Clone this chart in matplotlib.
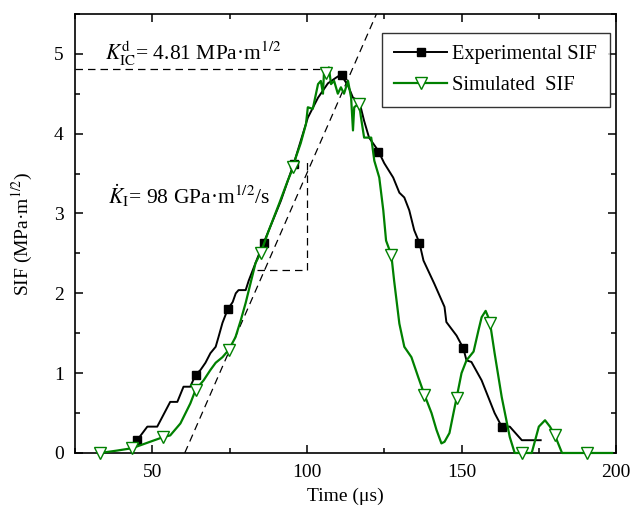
import matplotlib
matplotlib.use("Agg")
import matplotlib.pyplot as plt
from matplotlib.lines import Line2D
from matplotlib.ticker import MultipleLocator

plt.rcParams['font.family'] = ['Liberation Serif', 'DejaVu Serif']
plt.rcParams['mathtext.fontset'] = 'stix'

# Experimental SIF curve
exp_t = [45.1, 48.4, 51.6, 55.8, 58.1, 60.1, 62.3, 64.0, 65.6, 67.2, 68.8, 70.5, 71.4, 72.7,
         74.4, 76.0, 77.0, 77.9, 80.2, 81.2, 82.5, 84.1, 86.0, 87.7, 91.6, 95.8, 100.3,
         103.6, 106.8, 109.4, 111.0, 113.3, 114.9, 116.9, 118.5, 120.1, 123.0, 125.0,
         127.9, 129.9, 131.5, 133.1, 134.7, 136.4, 137.7, 141.2, 144.5, 145.1, 148.4,
         150.6, 151.6, 153.2, 156.5, 160.7, 163.0, 165.6, 169.5, 175.6]
exp_k = [0.16, 0.33, 0.33, 0.64, 0.64, 0.83, 0.83, 0.98, 1.04, 1.13, 1.25, 1.33, 1.45, 1.63,
         1.80, 1.89, 2.00, 2.04, 2.04, 2.16, 2.29, 2.45, 2.63, 2.79, 3.16, 3.63, 4.20,
         4.45, 4.63, 4.70, 4.74, 4.60, 4.45, 4.41, 4.16, 3.95, 3.79, 3.63,
         3.45, 3.26, 3.20, 3.04, 2.79, 2.63, 2.41, 2.12, 1.83, 1.64, 1.47,
         1.31, 1.16, 1.14, 0.91, 0.50, 0.33, 0.33, 0.16, 0.16]
exp_mark_t = [45.1, 64.0, 74.4, 86.0, 95.9, 111.2, 123.0, 136.4, 150.5, 163.2]
exp_mark_k = [0.16, 0.98, 1.80, 2.63, 3.62, 4.74, 3.77, 2.63, 1.31, 0.32]

# Simulated SIF curve
sim_t = [33.1, 38.6, 43.5, 53.6, 55.8, 59.1, 62.3, 64.0, 66.6, 68.8, 70.5, 72.7, 74.7, 76.9,
         78.6, 80.2, 81.8, 83.4, 85.1, 87.7, 91.0, 93.8, 95.6, 96.4, 98.0, 99.7, 100.3,
         101.9, 103.6, 104.5, 105.2, 105.5, 106.2, 107.1, 107.8, 108.8, 110.0, 111.0,
         112.0, 113.3, 114.3, 114.9, 115.3, 116.6, 116.9, 117.5, 118.5, 120.8, 121.8,
         123.4, 124.7, 125.6, 127.3, 128.2, 129.9, 131.5, 133.8, 136.0, 138.0, 140.3,
         141.9, 143.5, 144.5, 146.1, 147.4, 148.4, 150.0, 151.6, 153.9, 155.5, 156.5,
         157.8, 159.1, 160.7, 163.0, 165.6, 167.2, 169.5, 172.7, 175.0, 177.0, 178.6,
         180.2, 182.5, 190.6, 198.7]
sim_k = [0.00, 0.03, 0.06, 0.20, 0.22, 0.37, 0.62, 0.79, 0.91, 1.04, 1.13, 1.20, 1.29, 1.45,
         1.66, 1.88, 2.13, 2.38, 2.51, 2.79, 3.12, 3.41, 3.58, 3.70, 3.88, 4.12, 4.33,
         4.31, 4.62, 4.66, 4.50, 4.75, 4.76, 4.83, 4.62, 4.66, 4.50, 4.58,
         4.50, 4.66, 4.45, 4.04, 4.33, 4.37, 4.37, 4.20, 3.95, 3.95, 3.66,
         3.45, 3.04, 2.66, 2.48, 2.16, 1.62, 1.33, 1.20, 0.95, 0.73, 0.50,
         0.29, 0.12, 0.14, 0.25, 0.50, 0.69, 1.00, 1.16, 1.27, 1.54, 1.70,
         1.78, 1.66, 1.25, 0.70, 0.20, 0.00, 0.00, 0.00, 0.33, 0.41, 0.33,
         0.22, 0.00, 0.00, 0.00]
sim_mark_t = [33.1, 43.5, 53.6, 64.0, 74.7, 85.1, 95.6, 106.2, 116.9, 127.3, 138.0, 148.4,
              159.1, 169.5, 180.2, 190.6]
sim_mark_k = [0.00, 0.06, 0.20, 0.79, 1.29, 2.51, 3.58, 4.76, 4.37, 2.48, 0.73, 0.69,
              1.63, 0.00, 0.22, 0.00]

# Annotation guides
kic_value = 4.81
kic_t_end = 105.5
tangent_t = [60.5, 122.5]
tangent_k = [0.0, 5.5]
rate_h_t = [84.0, 100.0]
rate_h_k = 2.29
rate_v_t = 100.0
rate_v_k = [2.29, 3.65]

fig = plt.figure(figsize=(6.3, 5.13), dpi=100)
ax = fig.add_axes([0.119, 0.117, 0.859, 0.856])

green = '#008000'
ax.plot([25, kic_t_end], [kic_value, kic_value], ls=(0, (6, 4)), color='black', lw=0.9)
ax.plot(tangent_t, tangent_k, ls=(0, (6, 4)), color='black', lw=0.9)
ax.plot(rate_h_t, [rate_h_k, rate_h_k], ls=(0, (6, 4)), color='black', lw=0.9)
ax.plot([rate_v_t, rate_v_t], rate_v_k, ls=(0, (6, 4)), color='black', lw=0.9)

ax.plot(exp_t, exp_k, color='black', lw=1.4, zorder=3)
ax.plot(exp_mark_t, exp_mark_k, ls='none', marker='s', ms=6, color='black', zorder=4,
        clip_on=False)
ax.plot(sim_t, sim_k, color=green, lw=1.6, zorder=5, clip_on=False)
ax.plot(sim_mark_t, sim_mark_k, ls='none', marker='v', ms=8, mfc='white', mec=green,
        mew=1.0, zorder=6, clip_on=False)

ax.set_xlim(25, 200)
ax.set_ylim(0, 5.5)
ax.xaxis.set_major_locator(MultipleLocator(50))
ax.xaxis.set_minor_locator(MultipleLocator(25))
ax.yaxis.set_major_locator(MultipleLocator(1))
ax.yaxis.set_minor_locator(MultipleLocator(0.5))
ax.set_xticks([50, 100, 150, 200])
ax.tick_params(which='both', direction='in', top=True, right=True, labelsize=14, width=1.1)
ax.tick_params(which='major', length=6, pad=8)
ax.tick_params(which='minor', length=3.5)
for s in ax.spines.values():
    s.set_linewidth(1.2)

ax.set_xlabel('Time (μs)', fontsize=14, labelpad=5)
ax.set_ylabel('SIF (MPa·m$^{1/2}$)', fontsize=14, labelpad=14)

ax.text(34.8, 5.0, r'$K_{\mathrm{IC}}^{\mathrm{d}}$= 4.81 MPa·m$^{1/2}$', fontsize=15.5,
        va='center', ha='left')
ax.text(35.8, 3.22, r'$\dot{K}_{\mathrm{I}}$= 98 GPa·m$^{1/2}$/s', fontsize=15.5,
        va='center', ha='left')

handles = [Line2D([], [], color='black', lw=1.4, marker='s', ms=6),
           Line2D([], [], color=green, lw=1.6, marker='v', ms=8, mfc='white', mec=green)]
leg = ax.legend(handles, ['Experimental SIF', 'Simulated  SIF'], loc='upper right',
                bbox_to_anchor=(0.988, 0.957), fontsize=14.8, frameon=True, fancybox=False,
                edgecolor='black', handlelength=2.6, borderpad=0.6, labelspacing=0.55,
                handletextpad=0.25, borderaxespad=0.0)
leg.get_frame().set_linewidth(1.0)

fig.savefig('out.png', dpi=100)
